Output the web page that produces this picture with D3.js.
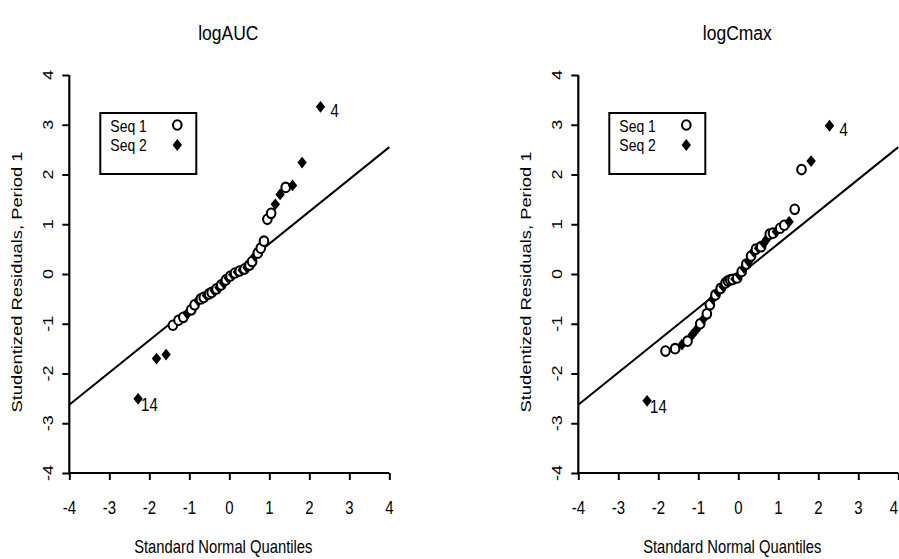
<!DOCTYPE html>
<html>
<head>
<meta charset="utf-8">
<script src="https://cdn.jsdelivr.net/npm/d3@7"></script>
<style>
  html, body { margin: 0; padding: 0; background: #fff; }
  svg { display: block; }
  text { font-family: "Liberation Sans", Arial, Helvetica, sans-serif; fill: #000; }
</style>
</head>
<body>
<svg id="chart" width="899" height="559"></svg>
<script>
// Standard normal quantiles shared by both panels (44 residuals, sorted)
const quantiles = [
  -2.28, -1.82, -1.58, -1.41, -1.27, -1.15, -1.046, -0.952, -0.867, -0.786, -0.711,
  -0.639, -0.571, -0.505, -0.441, -0.380, -0.319, -0.259, -0.201, -0.143, -0.0855, -0.0285,
  0.0285, 0.0855, 0.143, 0.201, 0.259, 0.319, 0.380, 0.441, 0.505, 0.571,
  0.639, 0.711, 0.786, 0.867, 0.952, 1.046, 1.15, 1.27, 1.41, 1.58, 1.82, 2.28
];

// logAUC studentized residuals (period 1) and sequence of each subject
const aucResiduals = [
  -2.51, -1.70, -1.62, -1.03, -0.93, -0.87, -0.80, -0.72, -0.62, -0.53, -0.50,
  -0.47, -0.43, -0.40, -0.37, -0.33, -0.30, -0.27, -0.22, -0.18, -0.12, -0.08,
  -0.04, -0.01, 0.02, 0.04, 0.06, 0.08, 0.10, 0.13, 0.18, 0.25,
  0.36, 0.42, 0.52, 0.66, 1.10, 1.22, 1.40, 1.60, 1.74, 1.78, 2.24, 3.36
];
const aucSeq = [
  2, 2, 2, 1, 1, 1, 2, 1, 1, 2, 1,
  1, 2, 1, 1, 2, 1, 2, 1, 2, 1, 2,
  1, 2, 1, 2, 1, 2, 1, 2, 1, 1,
  2, 1, 1, 1, 1, 1, 2, 2, 1, 2, 2, 2
];

// logCmax studentized residuals (period 1) and sequence of each subject
const cmaxResiduals = [
  -2.55, -1.55, -1.50, -1.42, -1.35, -1.22, -1.12, -1.00, -0.90, -0.80, -0.62,
  -0.50, -0.42, -0.36, -0.29, -0.25, -0.18, -0.14, -0.12, -0.11, -0.10, -0.08,
  -0.02, 0.05, 0.12, 0.20, 0.25, 0.36, 0.45, 0.50, 0.52, 0.55,
  0.62, 0.70, 0.80, 0.82, 0.85, 0.92, 0.98, 1.05, 1.30, 2.10, 2.27, 2.98
];
const cmaxSeq = [
  2, 1, 1, 2, 1, 2, 2, 1, 2, 1, 1,
  2, 1, 2, 1, 2, 1, 1, 1, 1, 2, 1,
  2, 1, 2, 1, 2, 1, 2, 1, 2, 1,
  2, 2, 1, 1, 2, 1, 1, 2, 1, 1, 2, 2
];

// Reference line: intercept and slope in residual units per quantile
const refLine = { intercept: -0.04, slope: 0.6475 };

const axisTicks = [-4, -3, -2, -1, 0, 1, 2, 3, 4];
const legendLabels = ["Seq 1", "Seq 2"];

const panels = [
  { title: "logAUC", residuals: aucResiduals, seq: aucSeq, left: 69.3,
    flagged: [{ index: 43, text: "4", dx: 10, dy: 4 }, { index: 0, text: "14", dx: 3, dy: 6 }] },
  { title: "logCmax", residuals: cmaxResiduals, seq: cmaxSeq, left: 578.3,
    flagged: [{ index: 43, text: "4", dx: 10, dy: 4 }, { index: 0, text: "14", dx: 3, dy: 6 }] }
];

const svg = d3.select("#chart");
const STRETCH = 1.2; // glyphs are drawn taller than wide
const plotWidth = 320;
const plotTop = 75, plotBottom = 473;
const pageWidth = 899;

// Taller-than-wide filled diamond
const tallDiamond = {
  draw(ctx, size) {
    const h = Math.sqrt(size) * 0.62, w = h * 0.8;
    ctx.moveTo(0, -h); ctx.lineTo(w, 0); ctx.lineTo(0, h); ctx.lineTo(-w, 0); ctx.closePath();
  }
};

function label(g, x, y, str, size, opts = {}) {
  return g.append("g")
    .attr("transform", `translate(${x},${y}) scale(1,${STRETCH})` + (opts.rotate ? ` rotate(${opts.rotate})` : ""))
    .append("text")
    .attr("font-size", size)
    .attr("text-anchor", opts.anchor || "middle")
    .attr("dominant-baseline", "central")
    .text(str);
}

function drawMarker(g, x, y, seq) {
  if (seq === 1) {
    g.append("ellipse").attr("cx", x).attr("cy", y).attr("rx", 4.3).attr("ry", 4.8)
      .attr("fill", "#fff").attr("stroke", "#000").attr("stroke-width", 2.1);
  } else {
    g.append("path").attr("transform", `translate(${x},${y})`)
      .attr("d", d3.symbol(tallDiamond, 90)()).attr("fill", "#000");
  }
}

panels.forEach(p => {
  const x = d3.scaleLinear().domain([-4, 4]).range([p.left, p.left + plotWidth]);
  const y = d3.scaleLinear().domain([-4, 4]).range([plotBottom, plotTop]);
  const g = svg.append("g");

  // Title
  label(g, p.left + plotWidth / 2 - 1, 33, p.title, 17.5);

  // Axes
  const xAxis = d3.axisBottom(x).tickValues(axisTicks).tickSize(7).tickFormat(() => "");
  const yAxis = d3.axisLeft(y).tickValues(axisTicks).tickSize(7).tickFormat(() => "");
  const gx = g.append("g").attr("transform", `translate(0,${plotBottom})`).call(xAxis);
  const gy = g.append("g").attr("transform", `translate(${p.left},0)`).call(yAxis);
  gx.select(".domain").attr("stroke-width", 2.2).attr("d", `M${p.left},0H${p.left + plotWidth}`);
  gy.select(".domain").attr("stroke-width", 2.2).attr("d", `M0,${plotTop}V${plotBottom}`);
  g.selectAll(".tick line").attr("stroke-width", 2);

  axisTicks.forEach(v => {
    // keep the last tick label inside the page edge
    const tx = Math.min(x(v), pageWidth - 5);
    label(g, tx, 508, String(v), 15);
    label(g, p.left - 21, y(v), String(v), 15, { rotate: -90 });
  });

  // Axis titles
  label(g, p.left + plotWidth / 2 - 6, 546, "Standard Normal Quantiles", 14.8);
  label(g, p.left - 52, (plotTop + plotBottom) / 2 + 8, "Studentized Residuals, Period 1", 15.3, { rotate: -90 });

  // Reference line across the full quantile range
  g.append("line")
    .attr("x1", x(-4)).attr("y1", y(refLine.intercept + refLine.slope * -4))
    .attr("x2", x(4)).attr("y2", y(refLine.intercept + refLine.slope * 4))
    .attr("stroke", "#000").attr("stroke-width", 2);

  // Points
  const pts = g.append("g");
  quantiles.forEach((q, i) => drawMarker(pts, x(q), y(p.residuals[i]), p.seq[i]));

  // Labels for the extreme subjects
  p.flagged.forEach(f => {
    label(g, x(quantiles[f.index]) + f.dx, y(p.residuals[f.index]) + f.dy, f.text, 15, { anchor: "start" });
  });

  // Legend
  const lg = g.append("g");
  lg.append("rect").attr("x", p.left + 31).attr("y", 113).attr("width", 96).attr("height", 61)
    .attr("fill", "#fff").attr("stroke", "#000").attr("stroke-width", 2);
  legendLabels.forEach((s, i) => {
    label(lg, p.left + 41, 126 + i * 19, s, 14, { anchor: "start" });
    drawMarker(lg, p.left + 108, 125 + i * 20, i + 1);
  });
});
</script>
</body>
</html>
